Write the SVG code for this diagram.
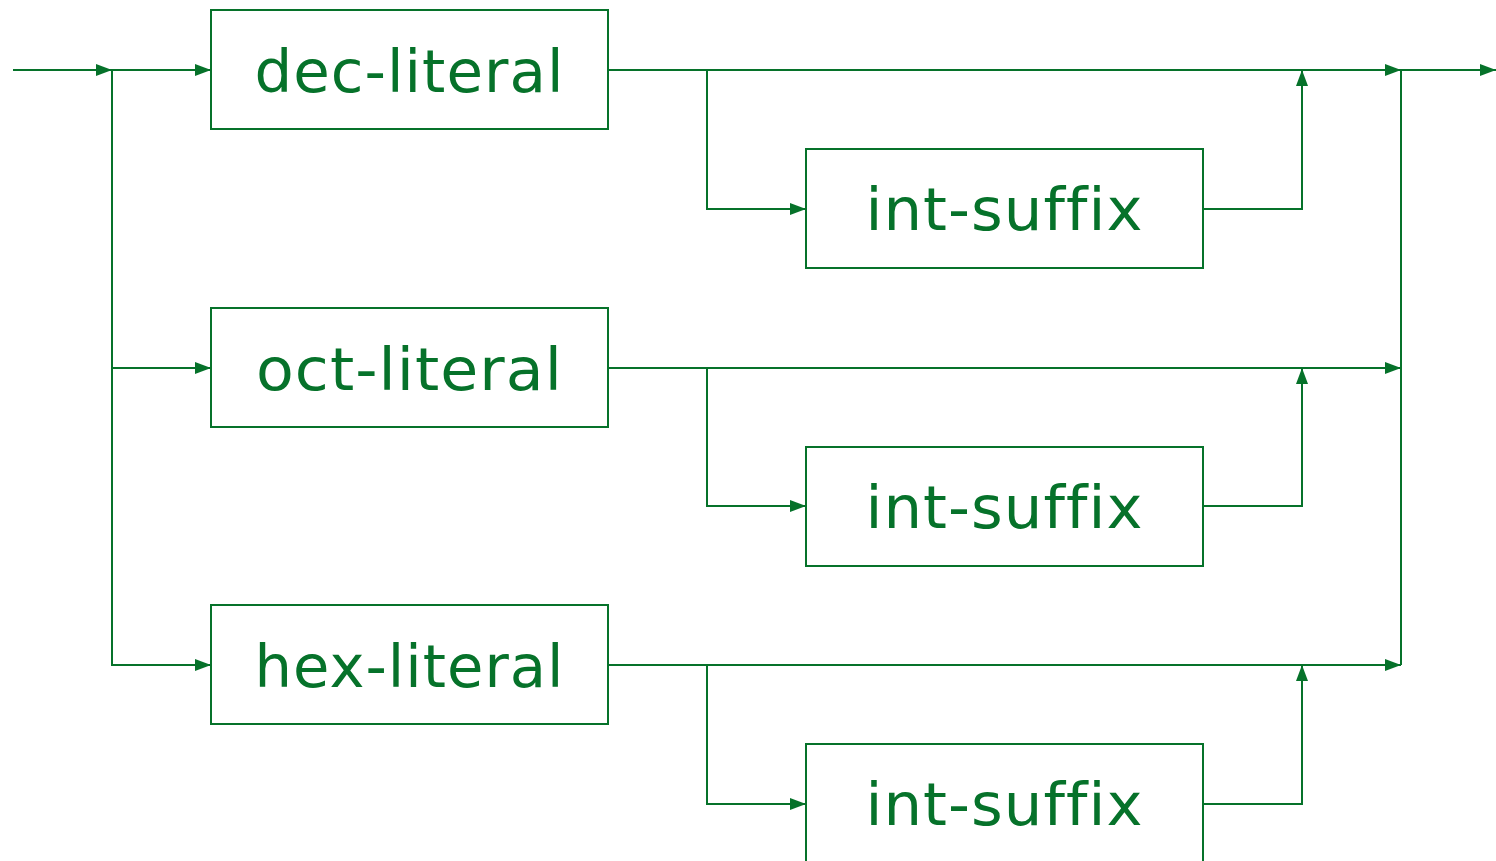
<svg xmlns="http://www.w3.org/2000/svg" width="1496" height="861" viewBox="0 0 1496 861">
<style>
.box{fill:#fff;stroke:#06722a;stroke-width:2}
.ln{fill:none;stroke:#06722a;stroke-width:2;stroke-linejoin:miter}
.t{font-family:"DejaVu Sans",sans-serif;font-size:58px;fill:#06722a;text-anchor:middle;font-variant-ligatures:none;font-feature-settings:"liga" 0;letter-spacing:1px}
</style>
<defs>
<marker id="ah" markerWidth="17" markerHeight="13" refX="16" refY="6.5" orient="auto" markerUnits="userSpaceOnUse">
<path d="M0,0.5 L16,6.5 L0,12.5 Z" fill="#06722a"/>
</marker>
</defs>
<rect width="1496" height="861" fill="#fff"/>
<g id="connectors">
<line class="ln" x1="13" y1="70" x2="112" y2="70" marker-end="url(#ah)"/>
<line class="ln" x1="112" y1="70" x2="211" y2="70" marker-end="url(#ah)"/>
<polyline class="ln" points="112,70 112,368 211,368" marker-end="url(#ah)"/>
<polyline class="ln" points="112,368 112,665 211,665" marker-end="url(#ah)"/>
<line class="ln" x1="608" y1="70" x2="1401" y2="70" marker-end="url(#ah)"/>
<line class="ln" x1="608" y1="368" x2="1401" y2="368" marker-end="url(#ah)"/>
<line class="ln" x1="608" y1="665" x2="1401" y2="665" marker-end="url(#ah)"/>
<polyline class="ln" points="707,70 707,209 806,209" marker-end="url(#ah)"/>
<polyline class="ln" points="707,368 707,506 806,506" marker-end="url(#ah)"/>
<polyline class="ln" points="707,665 707,804 806,804" marker-end="url(#ah)"/>
<polyline class="ln" points="1203,209 1302,209 1302,70" marker-end="url(#ah)"/>
<polyline class="ln" points="1203,506 1302,506 1302,368" marker-end="url(#ah)"/>
<polyline class="ln" points="1203,804 1302,804 1302,665" marker-end="url(#ah)"/>
<line class="ln" x1="1401" y1="70" x2="1401" y2="665"/>
<line class="ln" x1="1401" y1="70" x2="1496" y2="70" marker-end="url(#ah)"/>
</g>
<g id="dec-literal">
<rect class="box" x="211" y="10" width="397" height="119"/>
<text class="t" x="409.5" y="92" textLength="310" lengthAdjust="spacingAndGlyphs">dec-literal</text>
</g>
<g id="oct-literal">
<rect class="box" x="211" y="308" width="397" height="119"/>
<text class="t" x="409.5" y="390" textLength="307" lengthAdjust="spacingAndGlyphs">oct-literal</text>
</g>
<g id="hex-literal">
<rect class="box" x="211" y="605" width="397" height="119"/>
<text class="t" x="409.5" y="687" textLength="310" lengthAdjust="spacingAndGlyphs">hex-literal</text>
</g>
<g id="int-suffix-1">
<rect class="box" x="806" y="149" width="397" height="119"/>
<text class="t" x="1004.5" y="230" textLength="278" lengthAdjust="spacingAndGlyphs">int-suffix</text>
</g>
<g id="int-suffix-2">
<rect class="box" x="806" y="447" width="397" height="119"/>
<text class="t" x="1004.5" y="528" textLength="278" lengthAdjust="spacingAndGlyphs">int-suffix</text>
</g>
<g id="int-suffix-3">
<rect class="box" x="806" y="744" width="397" height="119"/>
<text class="t" x="1004.5" y="825" textLength="278" lengthAdjust="spacingAndGlyphs">int-suffix</text>
</g>
</svg>
